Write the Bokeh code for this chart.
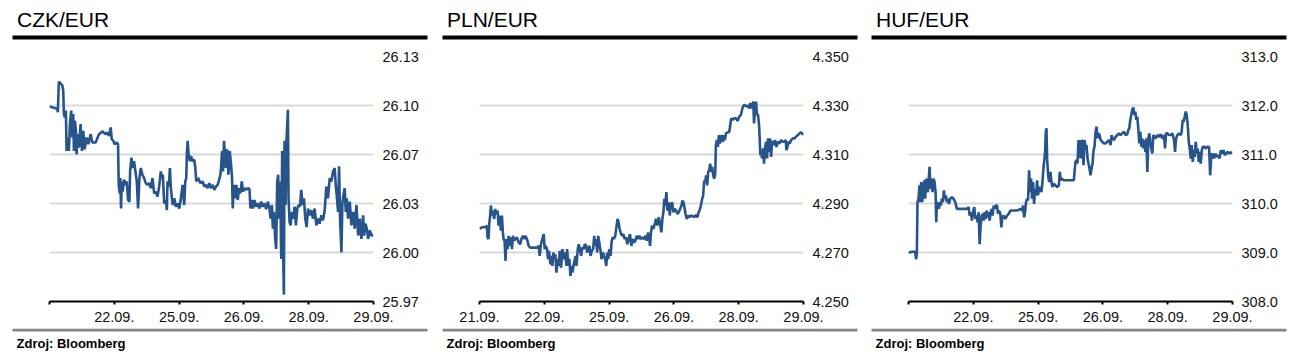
from bokeh.plotting import figure
from bokeh.layouts import row, column
from bokeh.models import Range1d, FixedTicker, NumeralTickFormatter
from bokeh.core.properties import value
from bokeh.embed import file_html
from bokeh.resources import INLINE

x_labels = ["21.09.", "22.09.", "25.09.", "26.09.", "28.09.", "29.09."]

czk_ticks = [25.97, 26.002, 26.034, 26.066, 26.098, 26.13]
pln_ticks = [4.25, 4.27, 4.29, 4.31, 4.33, 4.35]
huf_ticks = [308.0, 309.0, 310.0, 311.0, 312.0, 313.0]

titles = ["CZK/EUR", "PLN/EUR", "HUF/EUR"]
source_text = "Zdroj: Bloomberg"

# (day index, rate)
czk_points = [
    (0.000, 26.0974), (0.119, 26.0959), (0.129, 26.0936), (0.144, 26.1135), (0.196, 26.1113),
    (0.212, 26.1080), (0.222, 26.0925), (0.237, 26.0903), (0.253, 26.0947), (0.263, 26.0683),
    (0.284, 26.0771), (0.299, 26.0683), (0.315, 26.0859), (0.335, 26.0947), (0.351, 26.0771),
    (0.366, 26.0925), (0.377, 26.0683), (0.392, 26.0881), (0.408, 26.0815), (0.418, 26.0661),
    (0.433, 26.0793), (0.454, 26.0705), (0.480, 26.0859), (0.501, 26.0683), (0.521, 26.0815),
    (0.542, 26.0694), (0.573, 26.0771), (0.599, 26.0727), (0.635, 26.0793), (0.660, 26.0738),
    (0.712, 26.0738), (0.764, 26.0793), (0.815, 26.0811), (0.867, 26.0793), (0.893, 26.0804),
    (0.918, 26.0782), (0.944, 26.0837), (0.960, 26.0760), (0.986, 26.0749), (1.006, 26.0727),
    (1.037, 26.0738), (1.058, 26.0727), (1.068, 26.0462), (1.084, 26.0407), (1.094, 26.0506),
    (1.104, 26.0307), (1.115, 26.0484), (1.130, 26.0418), (1.151, 26.0495), (1.176, 26.0462),
    (1.192, 26.0484), (1.213, 26.0363), (1.233, 26.0352), (1.244, 26.0550), (1.264, 26.0639),
    (1.285, 26.0572), (1.305, 26.0616), (1.326, 26.0550), (1.347, 26.0484), (1.367, 26.0307),
    (1.388, 26.0506), (1.409, 26.0572), (1.434, 26.0528), (1.460, 26.0506), (1.486, 26.0473),
    (1.512, 26.0462), (1.538, 26.0473), (1.563, 26.0440), (1.589, 26.0506), (1.615, 26.0407),
    (1.641, 26.0418), (1.667, 26.0385), (1.692, 26.0451), (1.718, 26.0550), (1.734, 26.0506),
    (1.749, 26.0528), (1.770, 26.0341), (1.796, 26.0363), (1.811, 26.0296), (1.821, 26.0484),
    (1.842, 26.0451), (1.858, 26.0572), (1.873, 26.0440), (1.889, 26.0374), (1.904, 26.0330),
    (1.925, 26.0374), (1.950, 26.0319), (1.976, 26.0341), (2.002, 26.0307), (2.028, 26.0374),
    (2.054, 26.0462), (2.079, 26.0330), (2.095, 26.0484), (2.110, 26.0506), (2.121, 26.0672),
    (2.131, 26.0749), (2.147, 26.0661), (2.167, 26.0616), (2.183, 26.0650), (2.208, 26.0616),
    (2.234, 26.0627), (2.250, 26.0572), (2.265, 26.0484), (2.296, 26.0506), (2.327, 26.0473),
    (2.363, 26.0484), (2.389, 26.0451), (2.415, 26.0462), (2.441, 26.0440), (2.466, 26.0473),
    (2.492, 26.0440), (2.518, 26.0462), (2.544, 26.0429), (2.570, 26.0451), (2.595, 26.0462),
    (2.611, 26.0484), (2.637, 26.0528), (2.647, 26.0572), (2.663, 26.0683), (2.678, 26.0550),
    (2.694, 26.0749), (2.709, 26.0639), (2.724, 26.0572), (2.740, 26.0694), (2.761, 26.0528),
    (2.781, 26.0683), (2.802, 26.0594), (2.817, 26.0506), (2.828, 26.0307), (2.843, 26.0462),
    (2.864, 26.0374), (2.884, 26.0462), (2.905, 26.0363), (2.926, 26.0440), (2.946, 26.0407),
    (2.967, 26.0484), (2.988, 26.0418), (3.008, 26.0440), (3.034, 26.0429), (3.060, 26.0440),
    (3.086, 26.0435), (3.101, 26.0307), (3.122, 26.0363), (3.142, 26.0307), (3.163, 26.0363),
    (3.189, 26.0319), (3.215, 26.0341), (3.240, 26.0307), (3.266, 26.0352), (3.292, 26.0319),
    (3.318, 26.0341), (3.344, 26.0303), (3.369, 26.0352), (3.395, 26.0307), (3.411, 26.0241),
    (3.432, 26.0330), (3.447, 26.0175), (3.462, 26.0285), (3.483, 26.0109), (3.498, 26.0043),
    (3.514, 26.0484), (3.529, 26.0528), (3.545, 26.0241), (3.560, 26.0484), (3.576, 25.9977),
    (3.591, 26.0683), (3.607, 25.9977), (3.617, 25.9745), (3.627, 26.0749), (3.643, 26.0330),
    (3.658, 26.0760), (3.679, 26.0952), (3.689, 26.0374), (3.705, 26.0219), (3.720, 26.0197),
    (3.741, 26.0285), (3.762, 26.0241), (3.782, 26.0319), (3.803, 26.0197), (3.824, 26.0307),
    (3.844, 26.0330), (3.865, 26.0319), (3.885, 26.0429), (3.906, 26.0330), (3.927, 26.0374),
    (3.947, 26.0241), (3.968, 26.0186), (3.989, 26.0307), (4.014, 26.0263), (4.040, 26.0296),
    (4.066, 26.0241), (4.092, 26.0307), (4.118, 26.0197), (4.143, 26.0241), (4.169, 26.0208),
    (4.195, 26.0263), (4.221, 26.0230), (4.247, 26.0296), (4.272, 26.0451), (4.298, 26.0374),
    (4.324, 26.0506), (4.350, 26.0484), (4.376, 26.0550), (4.401, 26.0572), (4.417, 26.0462),
    (4.432, 26.0396), (4.453, 26.0285), (4.469, 26.0583), (4.484, 26.0241), (4.505, 26.0021),
    (4.520, 26.0341), (4.536, 26.0396), (4.556, 26.0440), (4.572, 26.0285), (4.587, 26.0374),
    (4.608, 26.0241), (4.634, 26.0352), (4.659, 26.0197), (4.685, 26.0285), (4.711, 26.0175),
    (4.737, 26.0330), (4.763, 26.0131), (4.788, 26.0241), (4.814, 26.0109), (4.840, 26.0263),
    (4.856, 26.0131), (4.876, 26.0208), (4.897, 26.0175), (4.917, 26.0109), (4.943, 26.0164),
    (4.969, 26.0131), (5.000, 26.0131),
]

pln_points = [
    (0.000, 4.2796), (0.036, 4.2803), (0.088, 4.2803), (0.114, 4.2810), (0.124, 4.2762),
    (0.139, 4.2755), (0.150, 4.2816), (0.165, 4.2851), (0.175, 4.2892), (0.191, 4.2851),
    (0.206, 4.2871), (0.227, 4.2837), (0.243, 4.2878), (0.258, 4.2857), (0.279, 4.2871),
    (0.294, 4.2810), (0.310, 4.2851), (0.330, 4.2789), (0.346, 4.2851), (0.361, 4.2782),
    (0.372, 4.2755), (0.387, 4.2748), (0.402, 4.2666), (0.413, 4.2755), (0.433, 4.2714),
    (0.449, 4.2768), (0.464, 4.2727), (0.485, 4.2762), (0.501, 4.2714), (0.516, 4.2768),
    (0.537, 4.2748), (0.552, 4.2755), (0.578, 4.2762), (0.604, 4.2741), (0.630, 4.2734),
    (0.645, 4.2755), (0.671, 4.2768), (0.691, 4.2755), (0.707, 4.2768), (0.733, 4.2755),
    (0.759, 4.2727), (0.784, 4.2720), (0.836, 4.2720), (0.888, 4.2720), (0.913, 4.2727),
    (0.929, 4.2686), (0.949, 4.2734), (0.970, 4.2755), (0.991, 4.2775), (1.006, 4.2714),
    (1.022, 4.2727), (1.042, 4.2714), (1.058, 4.2673), (1.073, 4.2707), (1.094, 4.2652),
    (1.109, 4.2686), (1.125, 4.2645), (1.140, 4.2700), (1.156, 4.2673), (1.171, 4.2693),
    (1.187, 4.2618), (1.207, 4.2673), (1.223, 4.2645), (1.238, 4.2707), (1.259, 4.2638),
    (1.280, 4.2714), (1.300, 4.2673), (1.321, 4.2700), (1.342, 4.2645), (1.352, 4.2714),
    (1.373, 4.2645), (1.388, 4.2673), (1.403, 4.2604), (1.419, 4.2645), (1.434, 4.2618),
    (1.455, 4.2652), (1.481, 4.2686), (1.496, 4.2645), (1.517, 4.2714), (1.532, 4.2734),
    (1.548, 4.2714), (1.569, 4.2686), (1.584, 4.2720), (1.610, 4.2714), (1.625, 4.2734),
    (1.646, 4.2727), (1.661, 4.2700), (1.677, 4.2714), (1.698, 4.2727), (1.713, 4.2686),
    (1.734, 4.2707), (1.754, 4.2714), (1.770, 4.2768), (1.785, 4.2727), (1.801, 4.2755),
    (1.816, 4.2700), (1.832, 4.2768), (1.852, 4.2734), (1.868, 4.2707), (1.883, 4.2673),
    (1.904, 4.2700), (1.920, 4.2686), (1.940, 4.2673), (1.956, 4.2645), (1.971, 4.2700),
    (1.987, 4.2673), (2.002, 4.2714), (2.023, 4.2686), (2.038, 4.2741), (2.054, 4.2762),
    (2.074, 4.2755), (2.095, 4.2768), (2.116, 4.2810), (2.131, 4.2837), (2.147, 4.2823),
    (2.162, 4.2796), (2.177, 4.2782), (2.198, 4.2768), (2.219, 4.2775), (2.239, 4.2755),
    (2.260, 4.2762), (2.281, 4.2734), (2.301, 4.2755), (2.322, 4.2775), (2.343, 4.2727),
    (2.363, 4.2755), (2.384, 4.2741), (2.405, 4.2748), (2.425, 4.2768), (2.446, 4.2755),
    (2.466, 4.2768), (2.487, 4.2755), (2.513, 4.2762), (2.539, 4.2755), (2.559, 4.2768),
    (2.580, 4.2748), (2.601, 4.2782), (2.621, 4.2755), (2.632, 4.2727), (2.647, 4.2782),
    (2.663, 4.2810), (2.683, 4.2796), (2.704, 4.2816), (2.724, 4.2837), (2.745, 4.2810),
    (2.766, 4.2844), (2.786, 4.2816), (2.807, 4.2782), (2.822, 4.2837), (2.838, 4.2864),
    (2.853, 4.2919), (2.869, 4.2892), (2.884, 4.2947), (2.900, 4.2871), (2.921, 4.2905),
    (2.936, 4.2851), (2.951, 4.2892), (2.972, 4.2905), (2.993, 4.2864), (3.013, 4.2878),
    (3.034, 4.2871), (3.055, 4.2857), (3.075, 4.2864), (3.096, 4.2878), (3.117, 4.2892),
    (3.132, 4.2912), (3.148, 4.2905), (3.163, 4.2885), (3.179, 4.2857), (3.199, 4.2837),
    (3.220, 4.2851), (3.240, 4.2844), (3.261, 4.2851), (3.287, 4.2848), (3.313, 4.2844),
    (3.338, 4.2853), (3.364, 4.2844), (3.380, 4.2864), (3.395, 4.2871), (3.416, 4.2892),
    (3.437, 4.2919), (3.452, 4.2933), (3.467, 4.2994), (3.483, 4.2988), (3.498, 4.3015),
    (3.514, 4.2974), (3.529, 4.3029), (3.545, 4.3036), (3.560, 4.3063), (3.576, 4.3029),
    (3.591, 4.3049), (3.607, 4.3015), (3.622, 4.3001), (3.638, 4.3022), (3.648, 4.3138),
    (3.664, 4.3159), (3.679, 4.3131), (3.695, 4.3179), (3.710, 4.3145), (3.725, 4.3166),
    (3.741, 4.3179), (3.756, 4.3152), (3.772, 4.3179), (3.787, 4.3159), (3.803, 4.3186),
    (3.829, 4.3190), (3.854, 4.3193), (3.870, 4.3221), (3.885, 4.3248), (3.906, 4.3241),
    (3.932, 4.3248), (3.958, 4.3248), (3.983, 4.3237), (4.009, 4.3255), (4.035, 4.3262),
    (4.051, 4.3282), (4.066, 4.3296), (4.087, 4.3303), (4.112, 4.3296), (4.138, 4.3300),
    (4.164, 4.3289), (4.180, 4.3310), (4.195, 4.3289), (4.211, 4.3296), (4.226, 4.3316),
    (4.236, 4.3227), (4.252, 4.3282), (4.267, 4.3316), (4.283, 4.3264), (4.298, 4.3262),
    (4.314, 4.3221), (4.324, 4.3166), (4.334, 4.3097), (4.345, 4.3111), (4.360, 4.3084),
    (4.376, 4.3125), (4.391, 4.3063), (4.407, 4.3125), (4.422, 4.3152), (4.438, 4.3084),
    (4.453, 4.3166), (4.469, 4.3111), (4.484, 4.3166), (4.500, 4.3090), (4.515, 4.3152),
    (4.530, 4.3152), (4.546, 4.3138), (4.561, 4.3159), (4.582, 4.3131), (4.603, 4.3152),
    (4.629, 4.3145), (4.654, 4.3159), (4.680, 4.3152), (4.706, 4.3152), (4.726, 4.3159),
    (4.737, 4.3118), (4.752, 4.3131), (4.768, 4.3152), (4.788, 4.3145), (4.809, 4.3159),
    (4.835, 4.3166), (4.861, 4.3166), (4.886, 4.3173), (4.912, 4.3179), (4.938, 4.3186),
    (4.964, 4.3190), (4.990, 4.3182), (5.000, 4.3186),
]

huf_points = [
    (0.000, 309.014), (0.015, 309.000), (0.052, 309.014), (0.103, 309.014), (0.119, 308.863),
    (0.129, 309.000), (0.139, 310.027), (0.155, 310.096), (0.170, 310.370), (0.180, 310.027),
    (0.196, 310.438), (0.211, 310.027), (0.227, 310.233), (0.242, 310.473), (0.258, 310.096),
    (0.273, 310.507), (0.284, 310.301), (0.299, 310.233), (0.314, 310.541), (0.325, 310.747),
    (0.340, 310.301), (0.356, 310.507), (0.371, 310.233), (0.387, 310.507), (0.402, 310.438),
    (0.418, 310.233), (0.428, 309.616), (0.438, 310.027), (0.454, 309.959), (0.469, 309.890),
    (0.485, 310.027), (0.500, 309.959), (0.515, 310.096), (0.531, 310.027), (0.546, 310.267),
    (0.562, 310.096), (0.577, 310.164), (0.593, 310.027), (0.608, 310.096), (0.624, 309.993),
    (0.644, 310.096), (0.670, 310.130), (0.696, 310.096), (0.722, 310.027), (0.747, 309.890),
    (0.799, 309.890), (0.851, 309.890), (0.902, 309.890), (0.928, 309.925), (0.943, 309.753),
    (0.964, 309.822), (0.979, 309.651), (0.995, 309.822), (1.015, 309.925), (1.031, 309.685),
    (1.046, 309.753), (1.067, 309.616), (1.082, 309.822), (1.098, 309.171), (1.113, 309.548),
    (1.129, 309.753), (1.144, 309.788), (1.160, 309.651), (1.175, 309.822), (1.191, 309.685),
    (1.206, 309.856), (1.222, 309.719), (1.237, 309.822), (1.253, 309.651), (1.268, 309.822),
    (1.284, 309.890), (1.299, 309.753), (1.314, 309.959), (1.330, 309.890), (1.345, 309.959),
    (1.366, 309.959), (1.381, 309.788), (1.397, 309.856), (1.418, 309.788), (1.433, 309.514),
    (1.448, 309.719), (1.469, 309.753), (1.495, 309.685), (1.521, 309.753), (1.546, 309.788),
    (1.572, 309.856), (1.624, 309.856), (1.675, 309.856), (1.727, 309.890), (1.753, 309.856),
    (1.768, 309.959), (1.784, 309.719), (1.799, 309.822), (1.814, 310.027), (1.830, 310.096),
    (1.845, 310.062), (1.861, 310.678), (1.876, 310.233), (1.892, 310.507), (1.907, 310.096),
    (1.923, 310.438), (1.938, 309.993), (1.954, 310.301), (1.969, 310.164), (1.985, 310.473),
    (2.000, 310.164), (2.015, 310.336), (2.036, 310.301), (2.052, 310.233), (2.067, 310.438),
    (2.082, 310.712), (2.098, 310.918), (2.108, 311.055), (2.119, 311.466), (2.129, 311.534),
    (2.139, 310.918), (2.155, 310.575), (2.170, 310.438), (2.191, 310.644), (2.206, 310.438),
    (2.222, 310.336), (2.242, 310.404), (2.268, 310.370), (2.294, 310.336), (2.320, 310.370),
    (2.335, 310.644), (2.351, 310.473), (2.366, 310.507), (2.397, 310.473), (2.448, 310.473),
    (2.500, 310.473), (2.552, 310.473), (2.562, 310.644), (2.577, 310.849), (2.593, 310.884),
    (2.608, 310.815), (2.624, 311.295), (2.639, 311.226), (2.655, 310.918), (2.670, 311.295),
    (2.686, 311.260), (2.701, 310.781), (2.716, 311.295), (2.732, 311.158), (2.747, 311.192),
    (2.763, 310.918), (2.778, 310.815), (2.794, 310.712), (2.809, 310.575), (2.825, 310.712),
    (2.840, 310.815), (2.856, 311.089), (2.871, 311.158), (2.887, 311.466), (2.902, 311.568),
    (2.918, 311.329), (2.933, 311.432), (2.948, 311.397), (2.964, 311.295), (2.990, 311.260),
    (3.015, 311.226), (3.041, 311.226), (3.067, 311.260), (3.093, 311.295), (3.119, 311.192),
    (3.134, 311.397), (3.149, 311.329), (3.170, 311.295), (3.196, 311.363), (3.222, 311.397),
    (3.247, 311.432), (3.273, 311.397), (3.299, 311.432), (3.325, 311.466), (3.351, 311.397),
    (3.376, 311.411), (3.392, 311.500), (3.407, 311.534), (3.423, 311.705), (3.438, 311.808),
    (3.454, 311.911), (3.469, 311.959), (3.485, 311.808), (3.500, 311.877), (3.515, 311.705),
    (3.531, 311.774), (3.546, 311.534), (3.562, 311.226), (3.577, 311.466), (3.593, 311.158),
    (3.608, 311.329), (3.624, 311.123), (3.639, 311.295), (3.655, 311.055), (3.670, 311.329),
    (3.686, 310.644), (3.701, 311.329), (3.716, 311.432), (3.732, 311.260), (3.747, 311.123),
    (3.763, 311.021), (3.778, 311.397), (3.794, 311.363), (3.814, 311.329), (3.840, 311.397),
    (3.866, 311.363), (3.892, 311.411), (3.918, 311.329), (3.943, 311.397), (3.959, 311.123),
    (3.974, 311.432), (3.995, 311.432), (4.021, 311.397), (4.046, 311.397), (4.072, 311.432),
    (4.098, 311.295), (4.113, 311.055), (4.129, 311.329), (4.149, 311.397), (4.175, 311.432),
    (4.201, 311.397), (4.216, 311.466), (4.232, 311.705), (4.247, 311.671), (4.263, 311.774),
    (4.278, 311.877), (4.294, 311.808), (4.309, 311.603), (4.325, 311.260), (4.340, 311.123),
    (4.356, 310.918), (4.371, 311.192), (4.387, 310.849), (4.402, 311.089), (4.418, 310.952),
    (4.433, 311.260), (4.448, 311.021), (4.464, 311.123), (4.479, 310.849), (4.495, 311.055),
    (4.510, 310.815), (4.526, 311.089), (4.541, 311.158), (4.562, 311.158), (4.588, 311.123),
    (4.613, 311.158), (4.639, 311.158), (4.655, 310.575), (4.670, 310.918), (4.686, 311.021),
    (4.701, 310.986), (4.716, 310.918), (4.737, 311.021), (4.758, 310.952), (4.778, 310.986),
    (4.799, 310.918), (4.820, 311.089), (4.840, 311.021), (4.861, 311.089), (4.881, 310.986),
    (4.902, 311.021), (4.923, 311.055), (4.948, 311.021), (4.974, 311.041), (5.000, 311.034),
]

FONT = "Liberation Sans"
LINE_COLOR = "#27558b"
HEADER_H = 44
MAIN_TOP, FRAME_H, MAIN_BOTTOM = 12, 245, 27
FOOTER_H = 32


def blank_fig(width, height):
    f = figure(width=width, height=height, output_backend="svg", toolbar_location=None,
               x_range=Range1d(0, width), y_range=Range1d(height, 0),
               x_axis_type=None, y_axis_type=None, title=None,
               min_border=0, min_border_left=0, min_border_right=0,
               min_border_top=0, min_border_bottom=0, frame_align=False)
    f.outline_line_color = None
    return f


def make_header(title, width):
    h = blank_fig(width, HEADER_H)
    h.quad(left=[12], right=[427], top=[35], bottom=[39], fill_color="black", line_color=None)
    h.text(x=[16.5], y=[19], text=[title], text_font=value(FONT), text_font_size="21px",
           text_color="black", text_baseline="alphabetic", text_align="left")
    return h


def make_footer(width):
    f = blank_fig(width, FOOTER_H)
    f.quad(left=[12], right=[427], top=[0], bottom=[3], fill_color="#858585", line_color=None)
    f.text(x=[16], y=[15], text=[source_text], text_font=value(FONT), text_font_size="13px",
           text_font_style="bold", text_color="black", text_baseline="alphabetic", text_align="left")
    return f


def make_main(points, ticks, fmt, first_label, width):
    p = figure(width=width, height=MAIN_TOP + FRAME_H + MAIN_BOTTOM,
               output_backend="svg", toolbar_location=None, title=None,
               x_range=Range1d(0, 5), y_range=Range1d(ticks[0], ticks[-1]),
               y_axis_location="right", frame_align=False,
               min_border_left=49, min_border_right=width - 373,
               min_border_top=MAIN_TOP, min_border_bottom=MAIN_BOTTOM)
    p.outline_line_color = None
    p.xgrid.visible = False
    p.ygrid.ticker = FixedTicker(ticks=ticks)
    p.ygrid.grid_line_color = "#d9d9d9"
    p.ygrid.grid_line_width = 2

    ya = p.yaxis[0]
    ya.ticker = FixedTicker(ticks=ticks)
    ya.formatter = NumeralTickFormatter(format=fmt)
    ya.axis_line_color = None
    ya.major_tick_line_color = None
    ya.minor_tick_line_color = None
    ya.major_tick_out = 0
    ya.major_tick_in = 0
    ya.major_label_standoff = 9
    ya.major_label_text_font = FONT
    ya.major_label_text_font_size = "14.5px"
    ya.major_label_text_color = "#111111"

    xa = p.xaxis[0]
    xa.ticker = FixedTicker(ticks=list(range(len(x_labels))))
    overrides = {i: lab for i, lab in enumerate(x_labels)}
    if not first_label:
        overrides[0] = ""
    xa.major_label_overrides = overrides
    xa.axis_line_color = "black"
    xa.axis_line_width = 2
    xa.major_tick_line_color = "black"
    xa.major_tick_line_width = 2
    xa.major_tick_out = 3
    xa.major_tick_in = 0
    xa.minor_tick_line_color = None
    xa.major_label_standoff = 7
    xa.major_label_text_font = FONT
    xa.major_label_text_font_size = "14.5px"
    xa.major_label_text_color = "#111111"

    xs = [pt[0] for pt in points]
    ys = [pt[1] for pt in points]
    p.line(xs, ys, line_color=LINE_COLOR, line_width=2.6)
    return p


def panel(title, points, ticks, fmt, first_label, width):
    return column(make_header(title, width),
                  make_main(points, ticks, fmt, first_label, width),
                  make_footer(width))


layout = row(
    panel(titles[0], czk_points, czk_ticks, "0.00", False, 430),
    panel(titles[1], pln_points, pln_ticks, "0.000", True, 429),
    panel(titles[2], huf_points, huf_ticks, "0.0", False, 433),
)
open("out.html", "w").write(file_html(layout, INLINE))
